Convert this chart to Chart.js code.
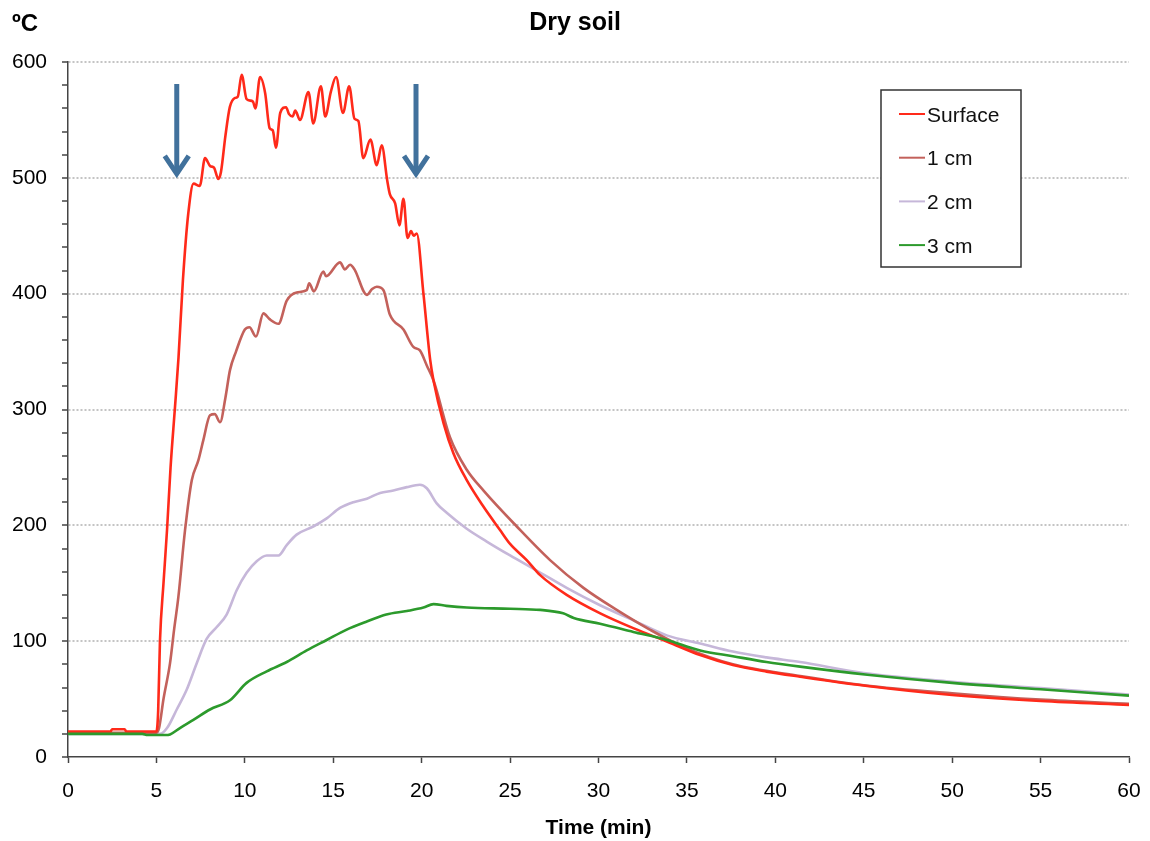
<!DOCTYPE html>
<html>
<head>
    <title>Dry soil</title>
    <script src="https://cdn.jsdelivr.net/npm/chart.js"></script>
    <style>
        body { margin: 0; background: #fff; }
    </style>
</head>
<body>
    <canvas id="soilChart" width="1150" height="841"></canvas>

    <script>
        // Temperature readings: time in min, temperature in ºC
        var surfaceTime = [0, 2.4, 2.5, 3.2, 3.3, 5.0, 5.1, 5.2, 5.4, 5.6, 5.8, 6.05, 6.25, 6.5, 6.8, 7.1, 7.45, 7.75, 8.05, 8.25,
            8.5, 8.65, 8.9, 9.15, 9.45, 9.6, 9.82, 10.1, 10.45, 10.6, 10.86, 11.15, 11.4, 11.58, 11.76, 12.0, 12.33, 12.5, 12.7, 12.85,
            13.12, 13.6, 13.87, 14.3, 14.55, 14.86, 15.16, 15.55, 15.9, 16.2, 16.42, 16.7, 17.1, 17.46, 17.74, 18.06, 18.2, 18.5, 18.74, 18.97,
            19.2, 19.4, 19.55, 19.72, 20.1, 20.48, 20.67, 21.24, 21.8, 22.55, 23.5, 24.43, 25, 25.94, 26.7, 28.2, 30.1, 32, 33.9, 35.75,
            37.6, 39.5, 41.4, 45.2, 50, 55, 60];
        var surfaceTemp = [22, 22, 24, 24, 22, 22, 40, 100, 150, 196, 250, 302, 345, 412, 469, 495, 493, 517, 510, 509,
            499, 505, 536, 561, 569, 570, 589, 568, 566, 560, 587, 573, 543, 541, 526, 556, 561, 555, 553, 558,
            550, 574, 547, 579, 553, 574, 587, 556, 579, 551, 549, 517, 533, 511, 528, 497, 486, 478, 459, 482,
            448, 454, 450, 452, 400, 343, 325, 288, 262, 239, 216, 196, 184, 170, 157, 140, 124, 111, 99.5, 88,
            79.4, 73.7, 69.3, 61.3, 53.5, 48.3, 45];

        var oneTime = [0, 5.0, 5.15, 5.4, 5.77, 6.0, 6.24, 6.62, 7.0, 7.37, 7.66, 8.03, 8.3, 8.6, 8.9, 9.16, 9.5, 10.0, 10.26, 10.63,
            11.05, 11.4, 11.9, 12.37, 12.93, 13.5, 13.64, 13.9, 14.44, 14.6, 15.38, 15.66, 15.95, 16.2, 16.9, 17.2, 17.46, 17.84, 18.2, 18.97,
            19.53, 19.9, 20.29, 20.67, 21.6, 22.55, 23.5, 25.38, 27.26, 29.15, 31.03, 32.9, 34.8, 37.6, 41.4, 45, 50, 55, 60];
        var oneTemp = [21, 21, 25, 50, 81, 110, 138, 196, 239, 256, 274, 295, 296, 289, 310, 334, 350, 369, 371, 363,
            383, 378, 374, 394, 401, 403, 409, 402, 419, 415, 427, 421, 425, 421, 399, 404, 406, 403, 382, 369,
            354, 351, 338, 325, 276, 248, 230, 199, 170, 146, 127, 110, 95, 80, 70, 62, 55, 49.5, 46];

        var twoTime = [0, 5.2, 5.6, 6.15, 6.71, 7.28, 7.84, 8.4, 8.97, 9.54, 10.1, 10.67, 11.24, 11.9, 12.37, 12.93, 13.87, 14.63, 15.38, 16.14,
            16.9, 17.65, 18.4, 19.16, 19.9, 20.29, 20.85, 21.4, 22.55, 23.68, 25, 26.5, 28.2, 30.09, 31.97, 33.86, 35.75, 37.6, 39.5, 41.4,
            45, 50, 55, 60];
        var twoTemp = [20, 20, 25, 41, 58, 81, 102, 112, 123, 144, 159, 169, 174, 174, 183, 192, 199, 206, 215, 220,
            223, 228, 230, 233, 235, 232, 219, 211, 197, 186, 174, 161, 146, 131, 118, 105, 98, 91, 86, 82,
            72.5, 65, 59.5, 54];

        var threeTime = [0, 4.2, 4.5, 5.5, 5.77, 6.33, 7.09, 8.03, 9.16, 10.1, 11.24, 12.37, 13.5, 14.63, 15.76, 16.9, 18.0, 19.16, 20.1, 20.67,
            21.4, 22.55, 25, 26.7, 28.0, 28.6, 30.09, 31.97, 33.86, 35.75, 37.6, 39.5, 41.4, 45.2, 50, 55, 60];
        var threeTemp = [20, 20, 19, 19, 19.5, 25, 32, 41, 49, 64, 74, 82, 92, 101, 110, 117, 123, 126, 129, 132,
            130.5, 129, 128, 127, 124, 120, 115, 108, 101, 92, 87, 82, 78, 71, 64, 58.5, 53];

        // Arrows marking start and end of the burn
        var arrowTimes = [6.15, 19.68];
        var arrowFrom = 581;
        var arrowTo = 500;

        var fontFamily = '"Liberation Sans", Arial, sans-serif';

        function points(times, temps) {
            return times.map(function (t, i) {
                return { x: t, y: temps[i] };
            });
        }

        // Draw the two blue arrows
        var arrowPlugin = {
            id: 'arrows',
            afterDatasetsDraw: function (chart) {
                var ctx = chart.ctx;
                var xs = chart.scales.x, ys = chart.scales.y;
                ctx.save();
                ctx.strokeStyle = '#41719c';
                ctx.lineWidth = 5;
                ctx.lineJoin = 'miter';
                arrowTimes.forEach(function (t) {
                    var px = xs.getPixelForValue(t);
                    var y1 = ys.getPixelForValue(arrowFrom);
                    var y2 = ys.getPixelForValue(arrowTo);
                    ctx.beginPath();
                    ctx.moveTo(px, y1);
                    ctx.lineTo(px, y2 - 4);
                    ctx.stroke();
                    ctx.beginPath();
                    ctx.moveTo(px - 12, y2 - 22);
                    ctx.lineTo(px, y2 - 4);
                    ctx.lineTo(px + 12, y2 - 22);
                    ctx.stroke();
                });
                ctx.restore();
            }
        };

        // Title, unit label and the boxed legend inside the plot
        var boxLegend = {
            id: 'boxLegend',
            afterDraw: function (chart) {
                var ctx = chart.ctx, area = chart.chartArea;
                var left = area.right - 248, top = area.top + 28;
                ctx.save();
                ctx.fillStyle = '#fff';
                ctx.fillRect(left, top, 140, 177);
                ctx.strokeStyle = '#333';
                ctx.lineWidth = 1.5;
                ctx.strokeRect(left, top, 140, 177);
                ctx.font = '21px ' + fontFamily;
                ctx.textBaseline = 'middle';
                chart.data.datasets.forEach(function (ds, i) {
                    var y = top + 26 + i * 43.7;
                    ctx.strokeStyle = ds.borderColor;
                    ctx.lineWidth = 2;
                    ctx.beginPath();
                    ctx.moveTo(left + 18, y - 2);
                    ctx.lineTo(left + 44, y - 2);
                    ctx.stroke();
                    ctx.fillStyle = '#111';
                    ctx.fillText(ds.label, left + 46, y);
                });

                ctx.fillStyle = '#000';
                ctx.font = 'bold 24px ' + fontFamily;
                ctx.fillText('ºC', 12, 24);
                ctx.font = 'bold 25px ' + fontFamily;
                ctx.textAlign = 'center';
                ctx.fillText('Dry soil', 575, 23);
                ctx.restore();
            }
        };

        var ctx = document.getElementById('soilChart').getContext('2d');
        var chart = new Chart(ctx, {
            type: 'line',
            data: {
                datasets: [{
                    label: 'Surface',
                    data: points(surfaceTime, surfaceTemp),
                    borderColor: '#ff2a1a',
                    order: 1
                }, {
                    label: '1 cm',
                    data: points(oneTime, oneTemp),
                    borderColor: '#c3615b',
                    order: 2
                }, {
                    label: '2 cm',
                    data: points(twoTime, twoTemp),
                    borderColor: '#c6b7d9',
                    order: 3
                }, {
                    label: '3 cm',
                    data: points(threeTime, threeTemp),
                    borderColor: '#2c9a2c',
                    order: 0
                }]
            },
            options: {
                responsive: false,
                animation: false,
                layout: { padding: { left: 0, right: 21, top: 62, bottom: 0 } },
                elements: {
                    point: { radius: 0 },
                    line: { borderWidth: 2.6, fill: false, cubicInterpolationMode: 'monotone' }
                },
                plugins: {
                    legend: { display: false },
                    tooltip: { enabled: false },
                    title: { display: false }
                },
                scales: {
                    x: {
                        type: 'linear',
                        min: 0,
                        max: 60,
                        afterFit: function (scale) { scale.height = 84; },
                        ticks: {
                            stepSize: 5,
                            maxTicksLimit: 20,
                            padding: 9,
                            color: '#000',
                            font: { family: fontFamily, size: 21, lineHeight: 1.87 }
                        },
                        grid: {
                            drawOnChartArea: false,
                            tickLength: 6,
                            tickColor: '#444',
                            tickWidth: 1.5
                        },
                        border: { color: '#444', width: 1.5 },
                        title: {
                            display: true,
                            text: 'Time (min)',
                            color: '#000',
                            font: { family: fontFamily, size: 21, weight: 'bold' },
                            padding: { top: 4, bottom: 0 }
                        }
                    },
                    y: {
                        min: 0,
                        max: 600,
                        afterFit: function (scale) { scale.width = 68; },
                        ticks: {
                            stepSize: 20,
                            maxTicksLimit: 40,
                            autoSkip: false,
                            padding: 15,
                            color: '#000',
                            font: { family: fontFamily, size: 21 },
                            callback: function (v) { return v % 100 === 0 ? v : ''; }
                        },
                        grid: {
                            color: function (c) {
                                return (c.tick && c.tick.value % 100 === 0 && c.tick.value > 0) ? '#c4c4c4' : 'rgba(0,0,0,0)';
                            },
                            lineWidth: 2,
                            tickLength: 6,
                            tickColor: '#444',
                            tickWidth: 1.5,
                            tickBorderDash: []
                        },
                        border: { color: '#444', width: 1.5, dash: [2, 2] }
                    }
                }
            },
            plugins: [arrowPlugin, boxLegend]
        });
    </script>
</body>
</html>
